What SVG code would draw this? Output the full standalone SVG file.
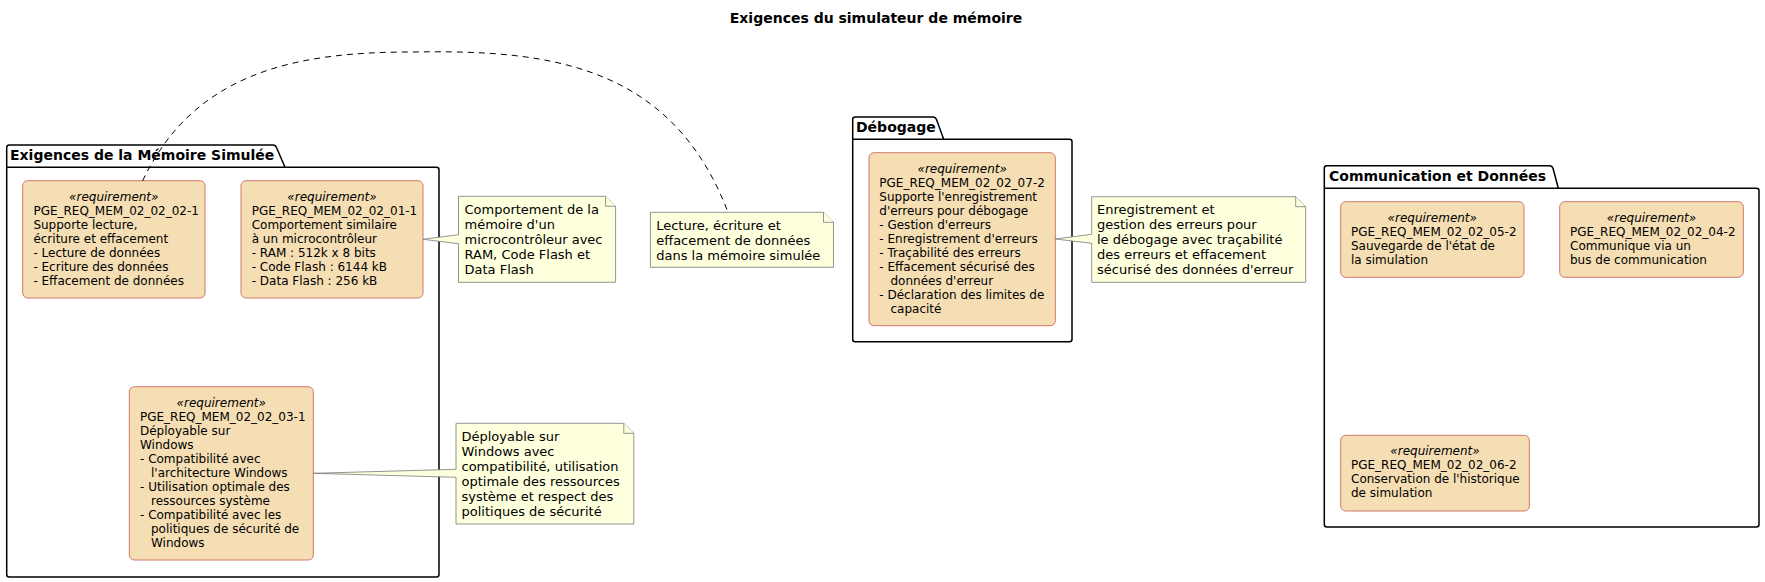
<svg xmlns="http://www.w3.org/2000/svg" width="1765" height="582" viewBox="0 0 1765 582">
<style>
text{font-family:"DejaVu Sans","Liberation Sans",sans-serif;fill:#000}
.title{font-size:14px;font-weight:bold}
.ptitle{font-size:14px;font-weight:bold}
.pkg{fill:none;stroke:#000;stroke-width:1.5}
.req{fill:#F5DEB3;stroke:#D0786C;stroke-width:1}
.rt{font-size:12px}
.st{font-size:12px;font-style:italic;text-anchor:middle}
.note{fill:#FEFFDD;stroke:#7A7A7A;stroke-width:0.8}
.nt{font-size:13px}
.conn{fill:none;stroke:#000;stroke-width:1;stroke-dasharray:6,5}
</style>
<rect width="1765" height="582" fill="#fff"/>
<text class="title" x="876" y="22.5" text-anchor="middle">Exigences du simulateur de mémoire</text>

<g id="pkg-memoire">
<path class="pkg" d="M6.7,167.3 L6.7,147.5 Q6.7,145 9.2,145 L273,145 Q275.5,145 276.5,147.5 L285,167.3 M6.7,167.3 L436.5,167.3 Q439,167.3 439,169.8 L439,574.5 Q439,577 436.5,577 L9.2,577 Q6.7,577 6.7,574.5 Z"/>
<text class="ptitle" x="10" y="160">Exigences de la Mémoire Simulée</text>
</g>
<g id="pkg-debogage">
<path class="pkg" d="M852.7,139.3 L852.7,119.5 Q852.7,117 855.2,117 L933,117 Q935.5,117 936.5,119.5 L943.7,139.3 M852.7,139.3 L1069.5,139.3 Q1072,139.3 1072,141.8 L1072,339.2 Q1072,341.7 1069.5,341.7 L855.2,341.7 Q852.7,341.7 852.7,339.2 Z"/>
<text class="ptitle" x="856" y="132.3">Débogage</text>
</g>
<g id="pkg-communication">
<path class="pkg" d="M1324.3,188.3 L1324.3,168.2 Q1324.3,165.7 1326.8,165.7 L1549.5,165.7 Q1552,165.7 1553,168.2 L1558.3,188.3 M1324.3,188.3 L1756.5,188.3 Q1759,188.3 1759,190.8 L1759,524.5 Q1759,527 1756.5,527 L1326.8,527 Q1324.3,527 1324.3,524.5 Z"/>
<text class="ptitle" x="1329" y="181">Communication et Données</text>
</g>

<g id="req-02-02-02-1">
<rect class="req" x="22.7" y="180.7" width="182.3" height="117.3" rx="5"/>
<text class="st" x="113.8" y="201">«requirement»</text>
<text class="rt"><tspan x="33.4" y="215">PGE_REQ_MEM_02_02_02-1</tspan><tspan x="33.4" y="229">Supporte lecture,</tspan><tspan x="33.4" y="243">écriture et effacement</tspan><tspan x="33.4" y="257">- Lecture de données</tspan><tspan x="33.4" y="271">- Ecriture des données</tspan><tspan x="33.4" y="285">- Effacement de données</tspan></text>
</g>
<g id="req-02-02-01-1">
<rect class="req" x="241" y="180.7" width="182" height="117.3" rx="5"/>
<text class="st" x="332" y="201">«requirement»</text>
<text class="rt"><tspan x="251.7" y="215">PGE_REQ_MEM_02_02_01-1</tspan><tspan x="251.7" y="229">Comportement similaire</tspan><tspan x="251.7" y="243">à un microcontrôleur</tspan><tspan x="251.7" y="257">- RAM : 512k x 8 bits</tspan><tspan x="251.7" y="271">- Code Flash : 6144 kB</tspan><tspan x="251.7" y="285">- Data Flash : 256 kB</tspan></text>
</g>
<g id="req-02-02-03-1">
<rect class="req" x="129.3" y="386.7" width="184" height="173.3" rx="5"/>
<text class="st" x="221.3" y="406.7">«requirement»</text>
<text class="rt"><tspan x="140" y="420.7">PGE_REQ_MEM_02_02_03-1</tspan><tspan x="140" y="434.7">Déployable sur</tspan><tspan x="140" y="448.7">Windows</tspan><tspan x="140" y="462.7">- Compatibilité avec</tspan><tspan x="151" y="476.7">l'architecture Windows</tspan><tspan x="140" y="490.7">- Utilisation optimale des</tspan><tspan x="151" y="504.7">ressources système</tspan><tspan x="140" y="518.7">- Compatibilité avec les</tspan><tspan x="151" y="532.7">politiques de sécurité de</tspan><tspan x="151" y="546.7">Windows</tspan></text>
</g>
<g id="req-02-02-07-2">
<rect class="req" x="869" y="152.7" width="186.3" height="173" rx="5"/>
<text class="st" x="962.2" y="172.7">«requirement»</text>
<text class="rt"><tspan x="879.3" y="186.7">PGE_REQ_MEM_02_02_07-2</tspan><tspan x="879.3" y="200.7">Supporte l'enregistrement</tspan><tspan x="879.3" y="214.7">d'erreurs pour débogage</tspan><tspan x="879.3" y="228.7">- Gestion d'erreurs</tspan><tspan x="879.3" y="242.7">- Enregistrement d'erreurs</tspan><tspan x="879.3" y="256.7">- Traçabilité des erreurs</tspan><tspan x="879.3" y="270.7">- Effacement sécurisé des</tspan><tspan x="890.5" y="284.7">données d'erreur</tspan><tspan x="879.3" y="298.7">- Déclaration des limites de</tspan><tspan x="890.5" y="312.7">capacité</tspan></text>
</g>
<g id="req-02-02-05-2">
<rect class="req" x="1340.7" y="201.7" width="183.3" height="75.6" rx="5"/>
<text class="st" x="1432.3" y="221.7">«requirement»</text>
<text class="rt"><tspan x="1351" y="235.7">PGE_REQ_MEM_02_02_05-2</tspan><tspan x="1351" y="249.7">Sauvegarde de l'état de</tspan><tspan x="1351" y="263.7">la simulation</tspan></text>
</g>
<g id="req-02-02-04-2">
<rect class="req" x="1559.7" y="201.7" width="183.6" height="75.6" rx="5"/>
<text class="st" x="1651.5" y="221.7">«requirement»</text>
<text class="rt"><tspan x="1570" y="235.7">PGE_REQ_MEM_02_02_04-2</tspan><tspan x="1570" y="249.7">Communique via un</tspan><tspan x="1570" y="263.7">bus de communication</tspan></text>
</g>
<g id="req-02-02-06-2">
<rect class="req" x="1340.7" y="435.3" width="188.6" height="75.7" rx="5"/>
<text class="st" x="1435" y="455.3">«requirement»</text>
<text class="rt"><tspan x="1351" y="469.3">PGE_REQ_MEM_02_02_06-2</tspan><tspan x="1351" y="483.3">Conservation de l'historique</tspan><tspan x="1351" y="497.3">de simulation</tspan></text>
</g>

<g id="note-comportement">
<path class="note" d="M458.5,196.3 L458.5,234.7 L423,239.3 L458.5,243.7 L458.5,282.3 L615.6,282.3 L615.6,206.3 L605.6,196.3 Z"/>
<path class="note" d="M605.6,196.3 L605.6,206.3 L615.6,206.3"/>
<text class="nt"><tspan x="464.5" y="213.5">Comportement de la</tspan><tspan x="464.5" y="228.6">mémoire d'un</tspan><tspan x="464.5" y="243.7">microcontrôleur avec</tspan><tspan x="464.5" y="258.8">RAM, Code Flash et</tspan><tspan x="464.5" y="273.9">Data Flash</tspan></text>
</g>
<g id="note-lecture">
<path class="note" d="M650.4,212.3 L650.4,267.3 L833.5,267.3 L833.5,222.3 L823.5,212.3 Z"/>
<path class="note" d="M823.5,212.3 L823.5,222.3 L833.5,222.3"/>
<text class="nt"><tspan x="656.2" y="229.5">Lecture, écriture et</tspan><tspan x="656.2" y="244.6">effacement de données</tspan><tspan x="656.2" y="259.7">dans la mémoire simulée</tspan></text>
</g>
<g id="note-deployable">
<path class="note" d="M456,423.3 L456,469.3 L313.3,473.3 L456,477.3 L456,524 L633.8,524 L633.8,433.3 L623.8,423.3 Z"/>
<path class="note" d="M623.8,423.3 L623.8,433.3 L633.8,433.3"/>
<text class="nt"><tspan x="461.5" y="440.6">Déployable sur</tspan><tspan x="461.5" y="455.7">Windows avec</tspan><tspan x="461.5" y="470.8">compatibilité, utilisation</tspan><tspan x="461.5" y="485.9">optimale des ressources</tspan><tspan x="461.5" y="501">système et respect des</tspan><tspan x="461.5" y="516.1">politiques de sécurité</tspan></text>
</g>
<g id="note-enregistrement">
<path class="note" d="M1091.7,196.7 L1091.7,234.3 L1055.3,239 L1091.7,243.3 L1091.7,282.3 L1305.7,282.3 L1305.7,206.7 L1295.7,196.7 Z"/>
<path class="note" d="M1295.7,196.7 L1295.7,206.7 L1305.7,206.7"/>
<text class="nt"><tspan x="1097" y="214">Enregistrement et</tspan><tspan x="1097" y="229.1">gestion des erreurs pour</tspan><tspan x="1097" y="244.2">le débogage avec traçabilité</tspan><tspan x="1097" y="259.3">des erreurs et effacement</tspan><tspan x="1097" y="274.4">sécurisé des données d'erreur</tspan></text>
</g>

<g id="connectors">
<path class="conn" d="M142.5,181 C195,70 300,52 412,52 C540,50 670,60 728,212.3"/>
</g>
</svg>
